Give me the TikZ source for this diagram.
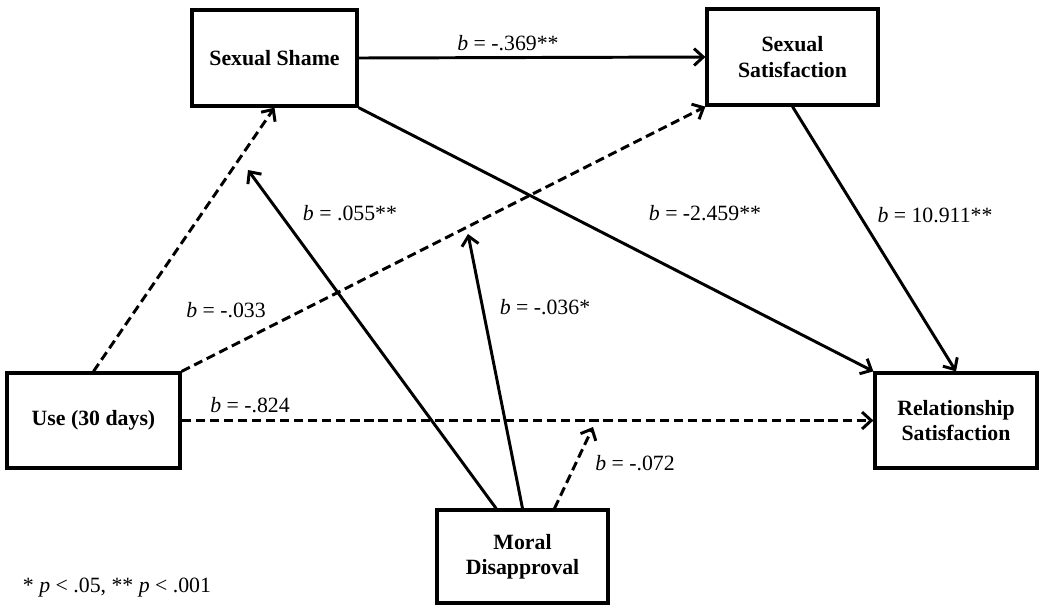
\documentclass[tikz,border=0pt]{standalone}
\usepackage{fontspec}
\setmainfont{Liberation Serif}
\usetikzlibrary{arrows.meta}

\tikzset{
    varbox/.style={draw, line width=2.3pt, align=center, inner sep=0pt,
        font=\fontsize{15.5}{18}\selectfont\bfseries},
    coef/.style={font=\fontsize{15.5}{18}\selectfont, inner sep=1pt},
    path/.style={line width=2.1pt, -{Straight Barb[length=6.5pt,width=12pt,line width=2.1pt]}},
    npath/.style={path, dash pattern=on 6.5pt off 3.5pt}
}

\begin{document}
\begin{tikzpicture}[x=0.025cm, y=-0.025cm]
            \useasboundingbox (0,0) rectangle (1043,607);

            \node[varbox, minimum width=165*0.025cm, minimum height=96*0.025cm] at (274.5, 58)   (shame) {Sexual Shame};
            \node[varbox, minimum width=171*0.025cm, minimum height=96*0.025cm] at (792.5, 57)   (sexsat) {Sexual\\Satisfaction};
            \node[varbox, minimum width=173*0.025cm, minimum height=95*0.025cm] at (93.5, 420.5)   (use) {Use (30 days)};
            \node[varbox, minimum width=162*0.025cm, minimum height=95*0.025cm] at (956, 420.5)   (rel) {Relationship\\Satisfaction};
            \node[varbox, minimum width=171*0.025cm, minimum height=93*0.025cm] at (522.5, 556.5)   (moral) {Moral\\Disapproval};

            % moderation targets
            \coordinate (modA) at (248, 170);
            \coordinate (modB) at (468, 234);
            \coordinate (modC) at (593, 427);

            \draw [path] (shame.east) -- (sexsat.west);
            \draw [npath] (use.north) -- (shame.south);
            \draw [npath] (use.north east) -- (sexsat.south west);
            \draw [npath] (use.east) -- (rel.west);
            \draw [path] (shame.south east) -- (rel.north west);
            \draw [path] (sexsat.south) -- (rel.north);
            \draw [path] ([xshift=-0.66cm]moral.north) -- (modA);
            \draw [path] (moral.north) -- (modB);
            \draw [npath] ([xshift=0.8cm]moral.north) -- (modC);

            \node[coef] at (508, 43)   (c1) {\textit{b} = -.369**};
            \node[coef] at (350, 213)   (c2) {\textit{b} = .055**};
            \node[coef] at (705, 213)   (c3) {\textit{b} = -2.459**};
            \node[coef] at (935, 215)   (c4) {\textit{b} = 10.911**};
            \node[coef] at (226, 310)   (c5) {\textit{b} = -.033};
            \node[coef] at (545, 307)   (c6) {\textit{b} = -.036*};
            \node[coef] at (250, 405)   (c7) {\textit{b} = -.824};
            \node[coef] at (635, 463)   (c8) {\textit{b} = -.072};
            \node[coef] at (117, 588)   (note) {* \textit{p} < .05, ** \textit{p} < .001};
        \end{tikzpicture}
\end{document}
